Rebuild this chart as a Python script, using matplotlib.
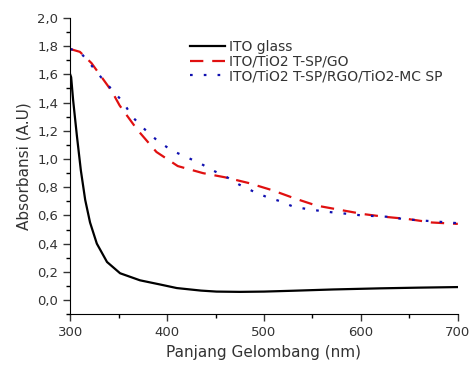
import matplotlib
matplotlib.use('Agg')
import matplotlib.pyplot as plt
from matplotlib.ticker import MultipleLocator, FuncFormatter

plt.rcParams['font.family'] = ['DejaVu Sans']

# ITO glass
wl_ito = [300, 301, 303, 307, 311, 315.5, 320.5, 327.5, 338, 351.5, 372, 393, 410,
          435, 451, 475, 500, 530, 571, 620, 660, 700]
abs_ito = [1.60, 1.58, 1.42, 1.16, 0.92, 0.71, 0.55, 0.40, 0.27, 0.19, 0.14, 0.11,
           0.085, 0.067, 0.060, 0.058, 0.060, 0.066, 0.075, 0.083, 0.088, 0.092]

# ITO/TiO2 T-SP/GO
wl_go = [300, 310, 322, 343, 351, 369, 389, 411, 437, 460, 484, 508, 532, 554, 578,
         602, 625, 648, 673, 700]
abs_go = [1.78, 1.76, 1.68, 1.48, 1.38, 1.21, 1.05, 0.95, 0.90, 0.87, 0.83, 0.78,
          0.72, 0.67, 0.64, 0.61, 0.59, 0.575, 0.55, 0.54]

# ITO/TiO2 T-SP/RGO/TiO2-MC SP
wl_rgo = [300, 310, 320, 333, 355, 364, 377, 390, 405, 434, 447, 462, 474, 489, 503,
          517, 531, 545, 560, 573, 588, 601, 615, 629, 643, 657, 671, 685, 700]
abs_rgo = [1.78, 1.76, 1.68, 1.57, 1.40, 1.30, 1.21, 1.13, 1.06, 0.97, 0.92, 0.87,
           0.82, 0.77, 0.73, 0.70, 0.66, 0.645, 0.63, 0.62, 0.61, 0.60, 0.595, 0.59,
           0.575, 0.567, 0.56, 0.553, 0.545]

fig = plt.figure(figsize=(4.71, 3.67), dpi=100)
ax = fig.add_axes([0.149, 0.144, 0.823, 0.807])

ax.plot(wl_ito, abs_ito, color='black', lw=1.6, label='ITO glass')
ax.plot(wl_go, abs_go, color='#e01010', lw=1.6, dashes=(6, 4), label='ITO/TiO2 T-SP/GO')
ax.plot(wl_rgo, abs_rgo, color='#1010b0', lw=1.6, dashes=(1.2, 5), label='ITO/TiO2 T-SP/RGO/TiO2-MC SP')

ax.set_xlim(300, 700)
ax.set_ylim(-0.1, 2.0)
ax.xaxis.set_major_locator(MultipleLocator(100))
ax.xaxis.set_minor_locator(MultipleLocator(50))
ax.yaxis.set_major_locator(MultipleLocator(0.2))
ax.yaxis.set_minor_locator(MultipleLocator(0.1))
ax.yaxis.set_major_formatter(FuncFormatter(lambda v, p: f'{v:.1f}'.replace('.', ',').replace('-0,0', '0,0')))
ax.tick_params(which='major', direction='out', length=5, width=1, labelsize=9.5, colors='#333333')
ax.tick_params(which='minor', direction='out', length=3, width=1)

for s in ['top', 'right']:
    ax.spines[s].set_visible(False)

ax.set_xlabel('Panjang Gelombang (nm)', fontsize=11, color='#333333')
ax.set_ylabel('Absorbansi (A.U)', fontsize=11, color='#333333')

leg = ax.legend(loc='upper left', bbox_to_anchor=(183 / 471, 1 - 33 / 367),
                bbox_transform=fig.transFigure, frameon=False, fontsize=10, borderpad=0,
                handlelength=2.5, handletextpad=0.3, labelspacing=0.05)
for t in leg.get_texts():
    t.set_color('#333333')

plt.savefig('out.png', dpi=100)
